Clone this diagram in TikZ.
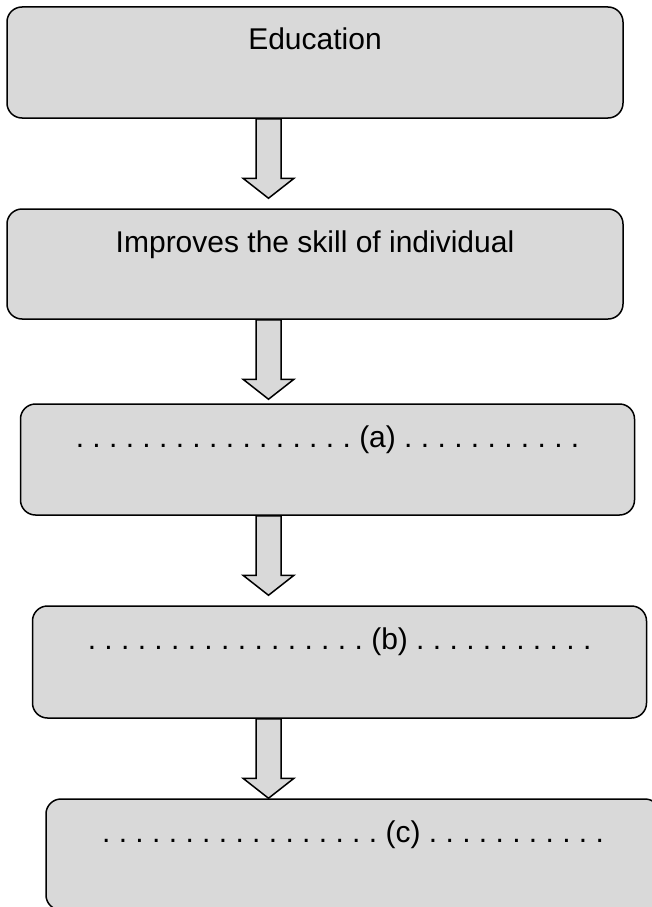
\documentclass[tikz,border=0pt]{standalone}
\usepackage{fontspec}
\setmainfont{Liberation Sans}
\usetikzlibrary{calc}
\definecolor{boxgray}{HTML}{D9D9D9}
\frenchspacing
\newcommand{\flowarrow}[3]{%
\path (ax |- #1.south) coordinate (s) ($(ax |- #2.north)+(0,-#3)$) coordinate (t);
\path[draw,fill=boxgray,line width=1.5pt] ($(s)+(-12.5,0)$) -- ($(t)+(-12.5,-20)$) -- ($(t)+(-25.5,-20)$) -- (t) -- ($(t)+(25.5,-20)$) -- ($(t)+(12.5,-20)$) -- ($(s)+(12.5,0)$) -- cycle;
}
\begin{document}
\begin{tikzpicture}[x=1pt,y=-1pt,
  box/.style={draw,line width=1.5pt,fill=boxgray,rounded corners=15pt,minimum width=614pt,inner xsep=0pt,inner ysep=0pt,text height=43pt,text depth=68pt,font=\fontsize{30}{36}\selectfont}]
\useasboundingbox (0,0) rectangle (652,907);
\coordinate (ax) at (268.5,0);
\node[box,minimum width=616pt] (b1) at (315,62.5) {Education};
\node[box,minimum width=616pt,text depth=67pt] (b2) at (315,264) {Improves the skill of individual};
\node[box] (b3) at (327.5,459.5) {. . . . . . . . . . . . . . . . . (a) . . . . . . . . . . .};
\node[box,text depth=69pt] (b4) at (339.5,662) {. . . . . . . . . . . . . . . . . (b) . . . . . . . . . . .};
\node[box] (b5) at (353,854.5) {. . . . . . . . . . . . . . . . . (c) . . . . . . . . . . .};
\flowarrow{b1}{b2}{10}
\flowarrow{b2}{b3}{4}
\flowarrow{b3}{b4}{10}
\flowarrow{b4}{b5}{0}
\end{tikzpicture}
\end{document}
